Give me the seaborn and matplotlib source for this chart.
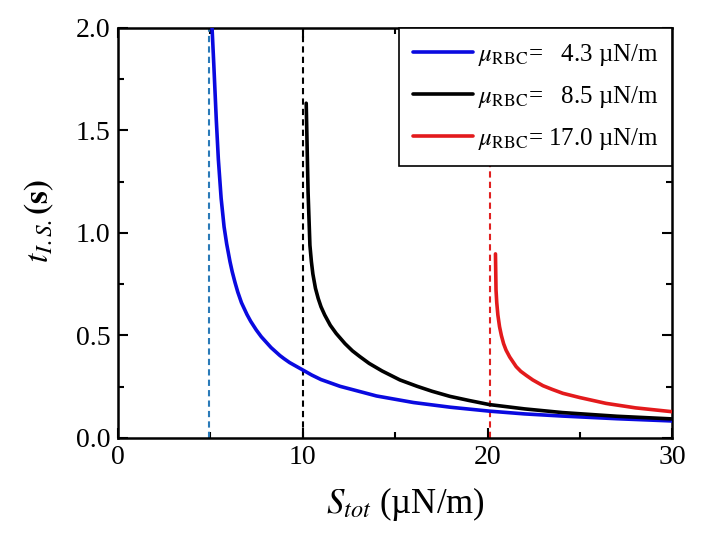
import pandas as pd
import matplotlib
matplotlib.use("Agg")
import matplotlib.pyplot as plt
import seaborn as sns
from matplotlib.ticker import MultipleLocator

s_blue = [5.11, 5.20, 5.34, 5.45, 5.60, 5.76, 5.90, 6.08, 6.20, 6.35, 6.50, 6.70, 7.00, 7.20,
          7.50, 7.77, 8.30, 8.78, 9.00, 9.30, 9.97, 10.5, 11.0, 12.03, 14.0, 16.0, 18.0, 20.1,
          22.0, 24.05, 27.0, 30.0]
t_blue = [2.00, 1.83, 1.55, 1.36, 1.17, 1.03, 0.947, 0.86, 0.811, 0.759, 0.712, 0.66, 0.602, 0.569,
          0.527, 0.494, 0.441, 0.402, 0.387, 0.368, 0.334, 0.307, 0.285, 0.252, 0.205, 0.173, 0.150, 0.131,
          0.1175, 0.107, 0.094, 0.083]

s_black = [10.20, 10.30, 10.40, 10.48, 10.56, 10.70, 10.85, 11.0, 11.2, 11.5, 11.82, 12.3, 12.7,
           13.1, 13.6, 14.3, 15.27, 16.2, 17.0, 17.97, 19.0, 20.1, 22.0, 24.05, 27.0, 30.0]
t_black = [1.633, 1.20, 0.94, 0.86, 0.80, 0.73, 0.68, 0.64, 0.60, 0.55, 0.51, 0.46, 0.425,
           0.397, 0.364, 0.327, 0.283, 0.252, 0.228, 0.203, 0.183, 0.163, 0.142, 0.124, 0.106, 0.093]

s_red = [20.43, 20.46, 20.50, 20.56, 20.65, 20.75, 20.87, 21.0, 21.2, 21.55, 21.8, 22.1, 22.45,
         23.0, 23.5, 24.07, 25.0, 26.4, 28.0, 30.0]
t_red = [0.898, 0.722, 0.66, 0.60, 0.543, 0.50, 0.46, 0.429, 0.395, 0.348, 0.325, 0.305, 0.283,
         0.255, 0.237, 0.218, 0.197, 0.169, 0.147, 0.128]

# critical tension for each case (dashed lines)
s_crit = [4.97, 10.0, 20.15]
crit_colors = ["#2a7ab8", "black", "#e02020"]

labels = [r"$\mu_{\mathrm{RBC}}$=   4.3 µN/m",
          r"$\mu_{\mathrm{RBC}}$=   8.5 µN/m",
          r"$\mu_{\mathrm{RBC}}$= 17.0 µN/m"]
colors = ["#0a0ae0", "black", "#e31a1c"]

df = pd.concat([
    pd.DataFrame({"S": s_blue, "t": t_blue, "case": labels[0]}),
    pd.DataFrame({"S": s_black, "t": t_black, "case": labels[1]}),
    pd.DataFrame({"S": s_red, "t": t_red, "case": labels[2]}),
])

sns.set_style("ticks")
plt.rcParams["font.family"] = ["Liberation Serif", "DejaVu Serif"]
plt.rcParams["mathtext.fontset"] = "stix"
for k in ["text.color", "axes.labelcolor", "xtick.color", "ytick.color", "axes.edgecolor"]:
    plt.rcParams[k] = "black"

fig = plt.figure(figsize=(7.05, 5.41), dpi=100)
ax = fig.add_axes([0.1667, 0.1904, 0.7872, 0.7579])

for s, c in zip(s_crit, crit_colors):
    ax.axvline(s, color=c, lw=1.5, ls=(0, (3, 2)), zorder=1)

sns.lineplot(data=df, x="S", y="t", hue="case", palette=dict(zip(labels, colors)),
             sort=False, lw=2.6, ax=ax, zorder=3)

ax.set_xlim(0, 30)
ax.set_ylim(0, 2.0)
ax.xaxis.set_major_locator(MultipleLocator(10))
ax.xaxis.set_minor_locator(MultipleLocator(5))
ax.yaxis.set_major_locator(MultipleLocator(0.5))
ax.yaxis.set_minor_locator(MultipleLocator(0.25))
ax.tick_params(which="both", direction="in", top=True, right=True, width=1.5,
               labelsize=20, pad=5)
ax.tick_params(which="major", length=7)
ax.tick_params(which="minor", length=4)
for sp in ax.spines.values():
    sp.set_linewidth(1.8)

ax.set_xlabel(r"$S_{tot}$ (µN/m)", fontsize=25)
ax.set_ylabel(r"$t_{I.S.}\mathbf{(s)}$", fontsize=24)
ax.xaxis.set_label_coords(0.518, -0.115)
ax.yaxis.set_label_coords(-0.11, 0.53)

leg = ax.legend(loc="upper right", fontsize=18, frameon=True, fancybox=False,
                edgecolor="black", framealpha=1, borderaxespad=0, borderpad=0.55,
                handlelength=2.4, handletextpad=0.2, labelspacing=0.65)
leg.get_frame().set_linewidth(1.2)
for line in leg.get_lines():
    line.set_linewidth(2.6)

plt.savefig("out.png", dpi=100)
